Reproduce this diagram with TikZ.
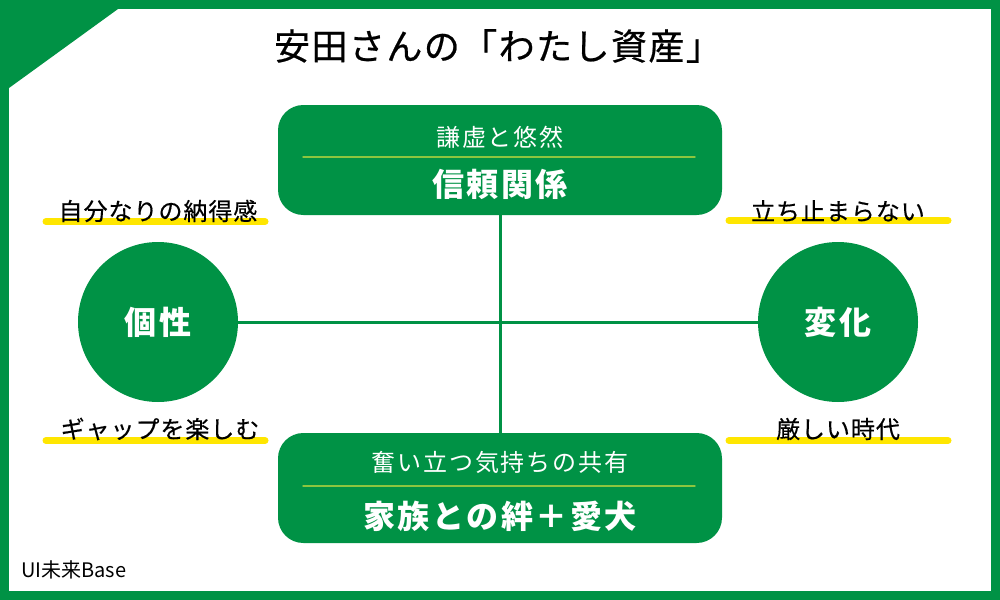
\documentclass[tikz,border=0pt]{standalone}
\usepackage{fontspec}
\setmainfont{Noto Sans CJK JP}
\usetikzlibrary{positioning}
\definecolor{assetgreen}{RGB}{0,146,69}
\definecolor{assetlime}{RGB}{140,198,63}
\definecolor{assetyellow}{RGB}{255,230,0}
\tikzset{
  asset canvas/.style={
    x=0.75pt,
    y=-0.75pt,
    line cap=round,
    line join=round
  },
  asset box/.style={
    fill=assetgreen,
    rounded corners=19pt,
    minimum width=333pt,
    minimum height=82.5pt,
    inner sep=0pt
  },
  asset circle/.style={
    circle,
    fill=assetgreen,
    minimum size=120pt,
    inner sep=0pt,
    text=white,
    font=\fontsize{24pt}{28pt}\selectfont\bfseries\addfontfeature{LetterSpace=12}
  },
  box sub/.style={
    text=white,
    inner sep=0pt,
    font=\fontsize{18pt}{22pt}\selectfont\addfontfeature{LetterSpace=8}
  },
  box main/.style={
    text=white,
    inner sep=0pt,
    font=\fontsize{24pt}{28pt}\selectfont\bfseries\addfontfeature{LetterSpace=8}
  },
  box rule/.style={
    draw=assetlime,
    line width=1.1pt
  },
  cross line/.style={
    draw=assetgreen,
    line width=2.25pt,
    line cap=butt
  },
  side label/.style={
    inner sep=0pt,
    font=\fontsize{18pt}{22pt}\selectfont\addfontfeature{LetterSpace=4,FakeBold=0.4}
  },
  label bar/.style={
    draw=assetyellow,
    line width=5.25pt
  }
}

\begin{document}
\begin{tikzpicture}[asset canvas]

  % frame
  \useasboundingbox (0,0) rectangle (1000,600);
  \fill[assetgreen] (0,0) rectangle (1000,600);
  \fill[white] (9,9) rectangle (991,591);
  \fill[assetgreen] (9,9) -- (118,9) -- (9,88) -- cycle;

  \node[inner sep=0pt,font=\fontsize{27pt}{32pt}\selectfont\addfontfeature{LetterSpace=4,FakeBold=0.6}]
    (title) at (498,46) {安田さんの「わたし資産」};

  % boxes
  \node[asset box] (topbox) at (500,160) {};
  \node[box sub] (topsub) at (500,137) {謙虚と悠然};
  \draw[box rule] (303,157) -- (695,157);
  \node[box main] (topmain) at (500,184) {信頼関係};

  \node[asset box] (botbox) at (500,488) {};
  \node[box sub] (botsub) at (500,462) {奮い立つ気持ちの共有};
  \draw[box rule] (303,486) -- (695,486);
  \node[box main] (botmain) at (500,516) {家族との絆＋愛犬};

  % circles
  \node[asset circle] (kosei) at (158,322) {個性};
  \node[asset circle] (henka) at (838,322) {変化};

  \draw[cross line] (topbox) -- (botbox);
  \draw[cross line] (kosei) -- (henka);

  % labels
  \draw[label bar] (46,221.5) -- (265,221.5);
  \draw[label bar] (46,440.5) -- (265,440.5);
  \draw[label bar] (729,220.5) -- (948,220.5);
  \draw[label bar] (729,440.5) -- (948,440.5);
  \node[side label] (nattoku) at (158,211) {自分なりの納得感};
  \node[side label] (gap) at (160,429) {ギャップを楽しむ};
  \node[side label] (tachido) at (838,211) {立ち止まらない};
  \node[side label] (kibishii) at (838,429) {厳しい時代};

  \node[inner sep=0pt,anchor=west,font=\fontsize{15pt}{18pt}\selectfont]
    (fontname) at (21,570) {UI未来Base};

\end{tikzpicture}
\end{document}
